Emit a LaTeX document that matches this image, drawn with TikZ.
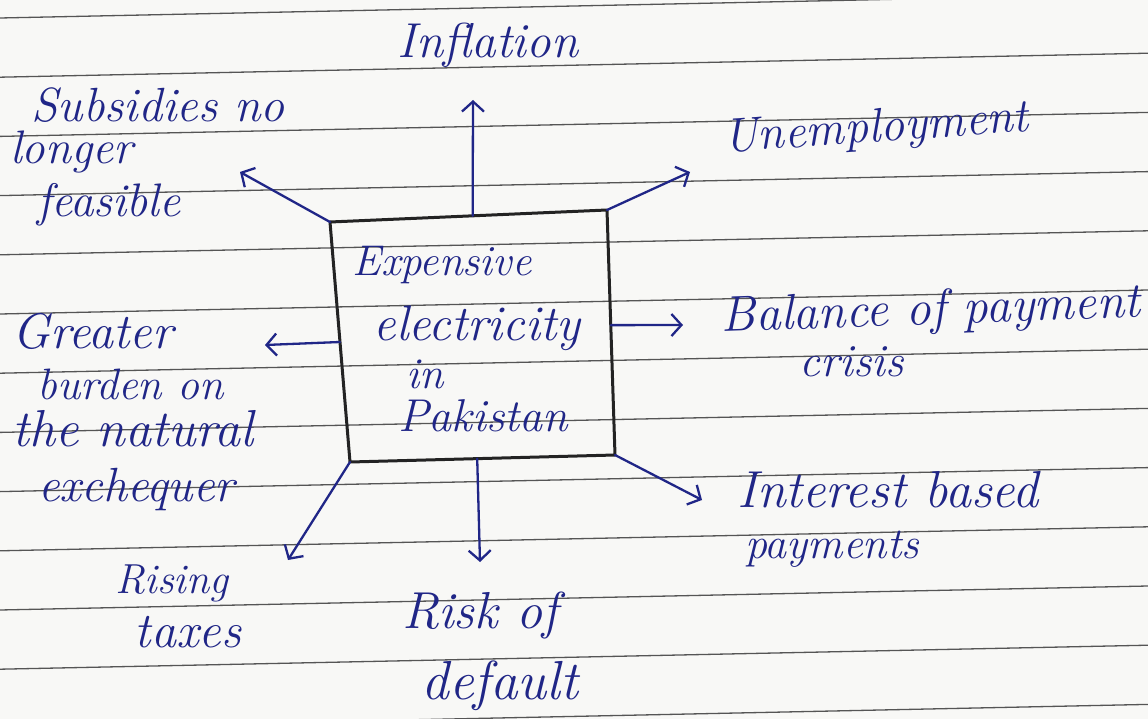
\documentclass[tikz,border=0pt]{standalone}
\usepackage{fontspec}
\usetikzlibrary{arrows.meta,calc}
\definecolor{paper}{RGB}{248,248,246}
\definecolor{rulegray}{RGB}{85,85,85}
\definecolor{ink}{RGB}{32,38,135}
\definecolor{boxink}{RGB}{35,35,35}
\begin{document}
\begin{tikzpicture}[x=1pt,y=-1pt,
  hand/.style={font=\fontsize{#1}{#1}\selectfont\itshape, text=ink, inner sep=0pt, anchor=center},
  hand/.default=48,
  link/.style={draw=ink, line width=2.3pt, line cap=round,
    -{Straight Barb[length=10pt,width=22pt,line width=2.3pt]}},
  ruling/.style={draw=rulegray, line width=1.3pt}]
% sheet of ruled paper
\fill[paper] (0,0) rectangle (1148,719);
\useasboundingbox (0,0) rectangle (1148,719);
\foreach \k in {0,...,12} {
  \draw[ruling] (0,{18+59.2*\k}) -- (1148,{18+59.2*\k-24});
}
% central box, drawn by hand so its sides are not quite square
\coordinate (tl) at (330,222);
\coordinate (tr) at (607,210);
\coordinate (br) at (615,455);
\coordinate (bl) at (350,462);
\draw[boxink, line width=3pt, line join=round] (tl) -- (tr) -- (br) -- (bl) -- cycle;
\node[hand=43] (c1) at (442,265) {Expensive};
\node[hand=50] (c2) at (477,328) {electricity};
\node[hand=44] (c3) at (425,374) {in};
\node[hand=46] (c4) at (483,416) {Pakistan};
% effects around the box
\node[hand=49] (infl) at (488,45) {Inflation};
\node[hand=48, rotate=4] (unemp) at (876,130) {Unemployment};
\node[hand=50, rotate=2] (bop1) at (931,312) {Balance of payment};
\node[hand=46] (bop2) at (852,362) {crisis};
\node[hand=52] (int1) at (888,490) {Interest based};
\node[hand=44] (int2) at (832,549) {payments};
\node[hand=52] (risk1) at (480,615) {Risk of};
\node[hand=55] (risk2) at (500,686) {default};
\node[hand=42] (tax1) at (172,583) {Rising};
\node[hand=50] (tax2) at (188,632) {taxes};
\node[hand=50, anchor=west] (gb1) at (12,331) {Greater};
\node[hand=44, anchor=west] (gb2) at (37,384) {burden on};
\node[hand=52, anchor=west] (gb3) at (12,429) {the natural};
\node[hand=48, anchor=west] (gb4) at (38,489) {exchequer};
\node[hand=48] (sub1) at (158,105) {Subsidies no};
\node[hand=47, anchor=west] (sub2) at (10,152) {longer};
\node[hand=47, anchor=west] (sub3) at (37,205) {feasible};
% arrow ends
\coordinate (inflEnd) at (473,100);
\coordinate (unempEnd) at (690,172);
\coordinate (bopEnd) at (683,325);
\coordinate (intEnd) at (702,500);
\coordinate (riskEnd) at (480,562);
\coordinate (taxEnd) at (288,560);
\coordinate (gbEnd) at (265,345);
\coordinate (subEnd) at (240,172);
% arrows
\draw[link] ($(tl)!0.515!(tr)$) -- (inflEnd);
\draw[link] (tr) -- (unempEnd);
\draw[link] ($(tr)!0.47!(br)$) -- (bopEnd);
\draw[link] (br) -- (intEnd);
\draw[link] ($(bl)!0.48!(br)$) -- (riskEnd);
\draw[link] (bl) -- (taxEnd);
\draw[link] ($(tl)!0.5!(bl)$) -- (gbEnd);
\draw[link] (tl) -- (subEnd);
\end{tikzpicture}
\end{document}
